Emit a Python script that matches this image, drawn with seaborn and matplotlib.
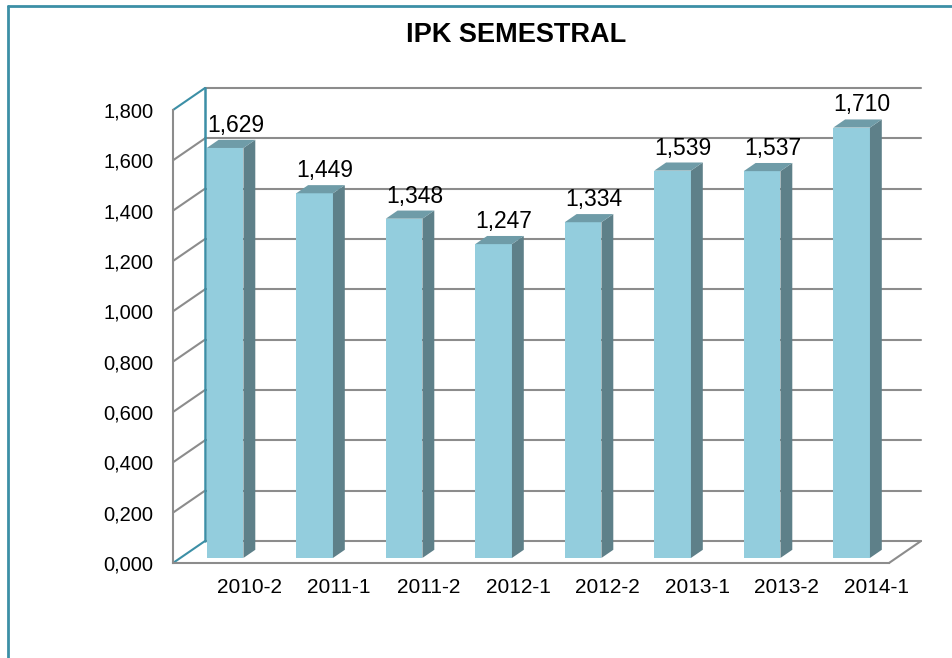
import numpy as np
import seaborn as sns
import matplotlib.pyplot as plt
from matplotlib.patches import Polygon
from matplotlib.lines import Line2D
from matplotlib.ticker import FuncFormatter

semestres = ["2010-2", "2011-1", "2011-2", "2012-1", "2012-2", "2013-1", "2013-2", "2014-1"]
ipk = [1.629, 1.449, 1.348, 1.247, 1.334, 1.539, 1.537, 1.710]
ticks_y = [0.0, 0.2, 0.4, 0.6, 0.8, 1.0, 1.2, 1.4, 1.6, 1.8]

sns.set_style("white")
plt.rcParams['font.family'] = ['Liberation Sans', 'DejaVu Sans']
plt.rcParams['text.color'] = 'black'
plt.rcParams['xtick.labelcolor'] = 'black'
plt.rcParams['ytick.labelcolor'] = 'black'

# colores
frente = "#93CDDD"
lado = "#5E8089"
arriba = "#6F9CA8"
gris = "#8C8C8C"
azul = "#3C8FA6"
azul_tick = "#24606F"

W, H = 953, 658
fig = plt.figure(figsize=(W / 100, H / 100), dpi=100)
ax = fig.add_axes([173 / W, 1 - 563 / H, 716 / W, 453 / H])

sns.barplot(x=semestres, y=ipk, ax=ax, color=frente, width=0.41,
            saturation=1, linewidth=0, zorder=3)
ax.set_xlim(-0.5, 7.5)
ax.set_ylim(0, 1.8)

# profundidad del efecto 3D (en unidades de datos)
DX, DY = 32 / 89.5, 22 / 251.7
f0, f1 = 0.23, 0.6

# barras en 3D: cara frontal desplazada + lado + techo
for p in list(ax.patches):
    x0, w, h = p.get_x(), p.get_width(), p.get_height()
    p.set_x(x0 + f0 * DX)
    p.set_y(f0 * DY)
    p.set_clip_on(False)
    xr = x0 + w
    ax.add_patch(Polygon([(xr + f0 * DX, f0 * DY), (xr + f0 * DX, h + f0 * DY),
                          (xr + f1 * DX, h + f1 * DY), (xr + f1 * DX, f1 * DY)],
                         closed=True, facecolor=lado, edgecolor="none", zorder=3, clip_on=False))
    ax.add_patch(Polygon([(x0 + f0 * DX, h + f0 * DY), (xr + f0 * DX, h + f0 * DY),
                          (xr + f1 * DX, h + f1 * DY), (x0 + f1 * DX, h + f1 * DY)],
                         closed=True, facecolor=arriba, edgecolor="none", zorder=3, clip_on=False))

# pared del fondo y pared izquierda
for t in ticks_y:
    ax.plot([-0.5 + DX, 7.5 + DX], [t + DY, t + DY], color=gris, lw=1.5, clip_on=False, zorder=1)
    c = azul if t in (0.0, 1.8) else gris
    ax.plot([-0.5, -0.5 + DX], [t, t + DY], color=c, lw=1.5, clip_on=False, zorder=1)
ax.plot([-0.5 + DX, -0.5 + DX], [DY, 1.8 + DY], color=azul, lw=1.8, clip_on=False, zorder=1.5)
ax.plot([7.5, 7.5 + DX], [0, DY], color=gris, lw=1.5, clip_on=False, zorder=1)

for s in ["top", "right"]:
    ax.spines[s].set_visible(False)
for s in ["left", "bottom"]:
    ax.spines[s].set_color(gris)
    ax.spines[s].set_linewidth(1.5)

fmt = lambda v, pos=None: f"{v:.3f}".replace(".", ",")
ax.set_yticks(ticks_y)
ax.yaxis.set_major_formatter(FuncFormatter(fmt))
ax.tick_params(axis="y", length=3.6, width=1.2, color=gris, pad=10.5, labelsize=14.5)

ax.set_xticks([i + DX for i in range(len(semestres))])
ax.set_xticklabels(semestres)
ax.set_xticks([i - 0.5 for i in range(len(semestres) + 1)], minor=True)
ax.tick_params(axis="x", which="major", length=0, pad=11, labelsize=15)
ax.tick_params(axis="x", which="minor", length=3.6, width=1.5, color=azul_tick)
ax.set_xlabel("")
ax.set_ylabel("")

# etiquetas de datos
for i, v in enumerate(ipk):
    ax.text(i + 0.2, v + 0.11, fmt(v), ha="center", va="center", color="black",
            fontsize=16.5, zorder=5, clip_on=False)

fig.text(516 / W, 1 - 35 / H, "IPK SEMESTRAL", ha="center", va="center",
         fontsize=19.5, fontweight="bold", color="black")

# marco del gráfico
fig.add_artist(Line2D([8 / W, 8 / W], [0, 1 - 6 / H], transform=fig.transFigure, color=azul, lw=2))
fig.add_artist(Line2D([8 / W, 1], [1 - 6 / H, 1 - 6 / H], transform=fig.transFigure, color=azul, lw=2))

plt.savefig("out.png", dpi=100)
